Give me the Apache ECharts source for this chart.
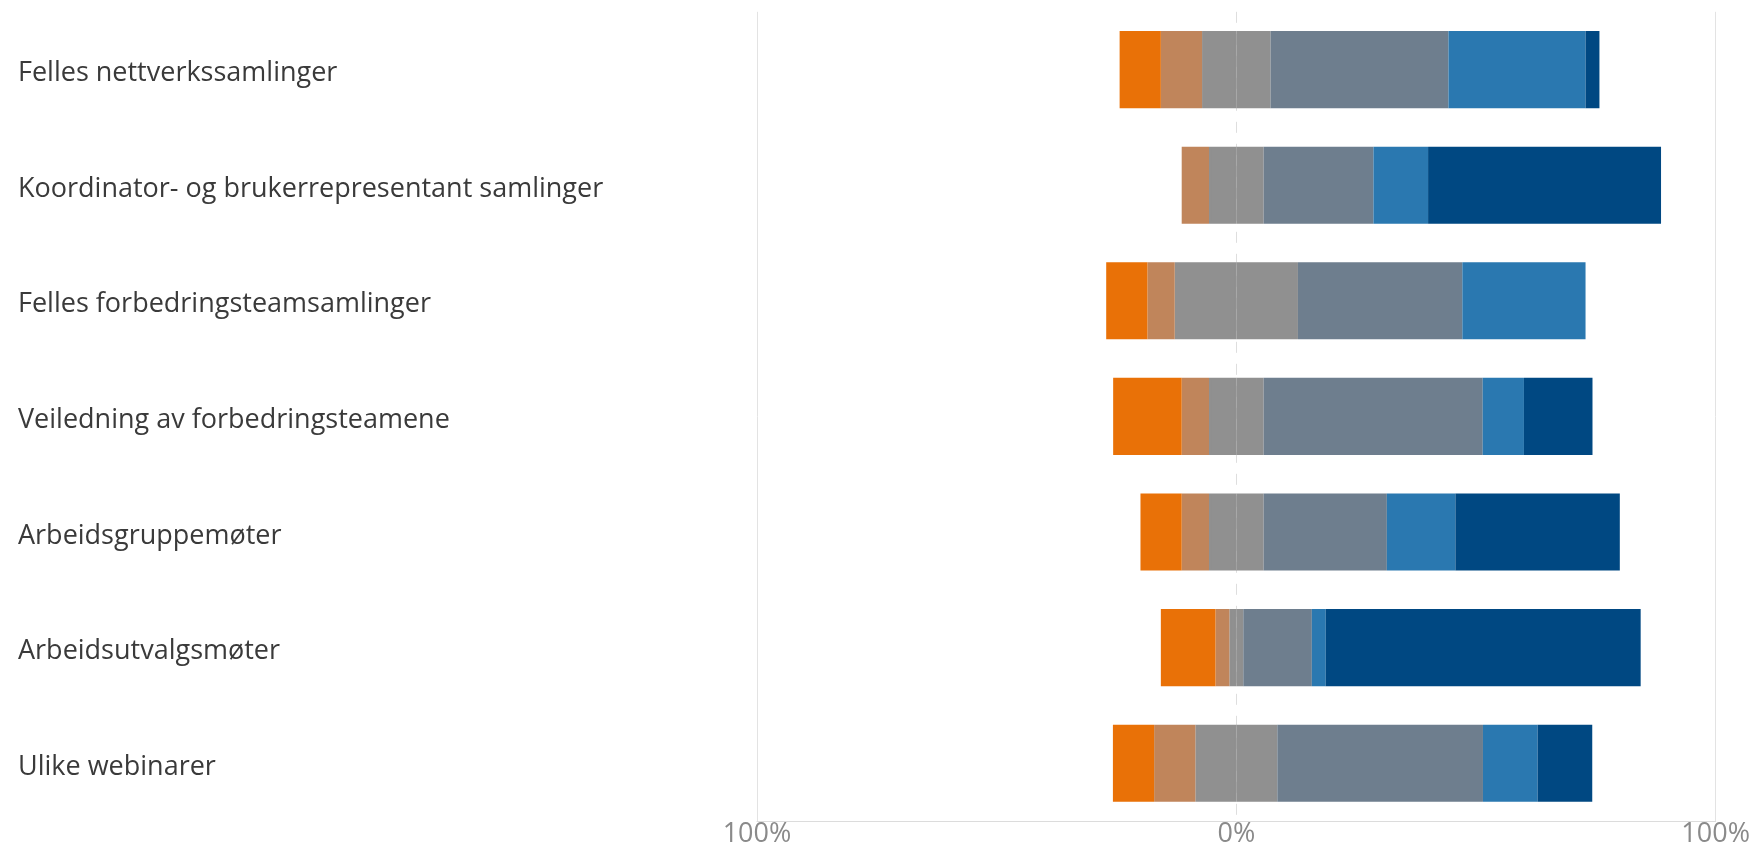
<!DOCTYPE html>
<html>
<head>
<meta charset="utf-8">
<script src="https://cdn.jsdelivr.net/npm/echarts@6/dist/echarts.min.js"></script>
<style>
html,body{margin:0;padding:0;background:#fff;}
#chart{width:1753px;height:848px;}
</style>
</head>
<body>
<div id="chart"></div>
<script>
// Categories (top to bottom)
const categories = [
  "Felles nettverkssamlinger",
  "Koordinator- og brukerrepresentant samlinger",
  "Felles forbedringsteamsamlinger",
  "Veiledning av forbedringsteamene",
  "Arbeidsgruppemøter",
  "Arbeidsutvalgsmøter",
  "Ulike webinarer"
];
// Percent shares per response level
const veryNegative = [8.6, 0.0, 8.6, 14.3, 8.6, 11.4, 8.6];   // orange
const negative     = [8.6, 5.7, 5.7, 5.7, 5.7, 2.9, 8.6];     // tan
const neutral      = [14.3, 11.4, 25.7, 11.4, 11.4, 2.9, 17.1]; // grey (centered on 0)
const positive     = [37.1, 22.9, 34.3, 45.7, 25.7, 14.3, 42.9]; // slate
const veryPositive = [28.6, 11.4, 25.7, 8.6, 14.3, 2.9, 11.4];  // blue
const extremelyPositive = [2.9, 48.6, 0.0, 14.3, 34.3, 65.7, 11.4]; // dark blue
// Axis ticks
const xMin = -100, xMax = 100, xInterval = 100;

const colors = {
  veryNegative: '#E97107',
  negative: '#C0855B',
  neutral: '#909090',
  positive: '#6E7E8E',
  veryPositive: '#2A78B0',
  extremelyPositive: '#004882'
};

function barSeries(name, data, color, seamFix) {
  return {
    name: name,
    type: 'bar',
    stack: 'total',
    xAxisIndex: 0,
    z: 5,
    barCategoryGap: '33.3%',
    itemStyle: seamFix ? { color: color, borderColor: color, borderWidth: 2 } : { color: color },
    emphasis: { disabled: true },
    data: data
  };
}

const series = [
  barSeries('Nøytral-', neutral.map(v => -v / 2), colors.neutral, true),
  barSeries('Negativ', negative.map(v => -v), colors.negative),
  barSeries('Svært negativ', veryNegative.map(v => -v), colors.veryNegative),
  barSeries('Nøytral+', neutral.map(v => v / 2), colors.neutral, true),
  barSeries('Positiv', positive, colors.positive),
  barSeries('Svært positiv', veryPositive, colors.veryPositive),
  barSeries('Ekstremt positiv', extremelyPositive, colors.extremelyPositive)
];

const chart = echarts.init(document.getElementById('chart'), null, {renderer: 'canvas'});
chart.setOption({
  animation: false,
  backgroundColor: '#ffffff',
  grid: { left: 757, right: 36, top: 11.8, bottom: 25, containLabel: false },
  xAxis: [
    {
      type: 'value', min: xMin, max: xMax, interval: xInterval, z: 0,
      axisLine: { show: true, lineStyle: { color: '#dcdcdc', width: 1 } },
      axisTick: { show: false },
      axisLabel: {
        color: '#8a8a8a', fontFamily: 'Open Sans', fontSize: 27, margin: 0,
        formatter: v => Math.abs(v) + '%'
      },
      splitLine: { show: true, lineStyle: { color: ['#e3e3e3', 'rgba(0,0,0,0)', '#e3e3e3'], width: 1 } }
    },
    {
      type: 'value', min: xMin, max: xMax, interval: xInterval, z: 0,
      axisLine: { show: false }, axisTick: { show: false }, axisLabel: { show: false },
      splitLine: { show: true, lineStyle: { color: ['rgba(0,0,0,0)', '#dedede', 'rgba(0,0,0,0)'], width: 1, type: [11, 11] } }
    }
  ],
  yAxis: {
    type: 'category', data: categories, inverse: true,
    axisLine: { show: false }, axisTick: { show: false },
    axisLabel: {
      align: 'left', margin: 739,
      formatter: v => '{t|' + v + '}',
      rich: { t: { color: '#3a3a3a', fontFamily: 'Open Sans', fontSize: 27, padding: [8, 0, 0, 0] } }
    }
  },
  series: series
});
</script>
</body>
</html>
